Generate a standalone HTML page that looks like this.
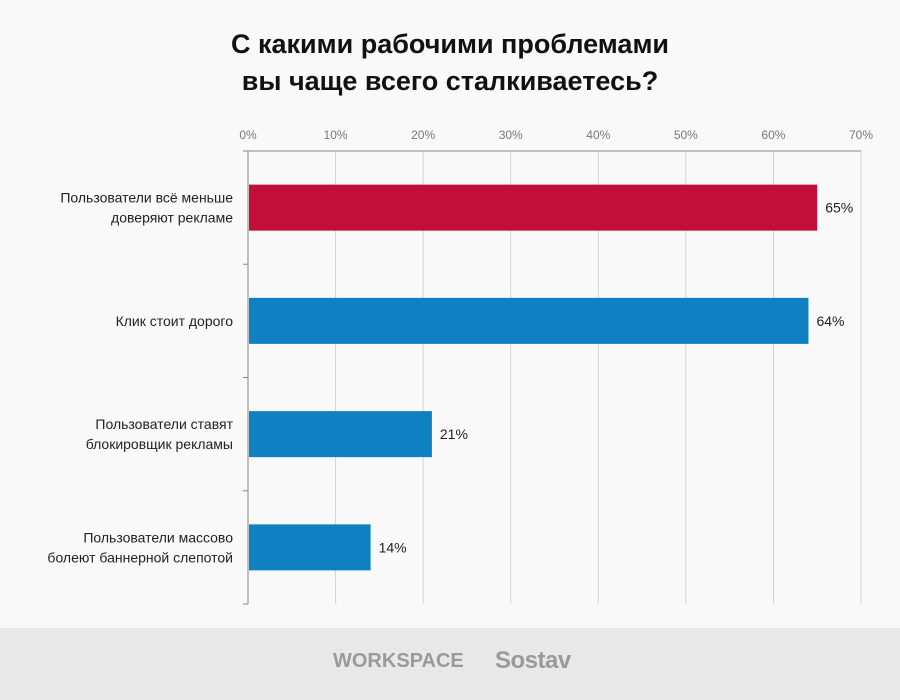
<!DOCTYPE html>
<html><head><meta charset="utf-8"><style>
body{margin:0;width:900px;height:700px;background:#f9f9f9;font-family:"Liberation Sans",sans-serif;overflow:hidden}
#title{position:absolute;top:26px;left:0;width:900px;text-align:center;font-weight:bold;font-size:27px;line-height:37px;color:#111}
#footer{position:absolute;left:0;top:628px;width:900px;height:72px;background:#e8e8e8}
</style></head><body>
<div id="title">С какими рабочими проблемами<br>вы чаще всего сталкиваетесь?</div>
<svg id="chart" width="900" height="628" style="position:absolute;top:0;left:0"></svg>
<div id="footer">
<span style="position:absolute;left:333px;top:22px;font-size:20px;font-weight:bold;color:#9a9a9a;letter-spacing:0px">WORKSPACE</span>
<span style="position:absolute;left:495px;top:19px;font-size:24px;font-weight:bold;color:#9a9a9a;letter-spacing:-0.5px">Sostav</span>
</div>
<script>
const categories=[["Пользователи всё меньше","доверяют рекламе"],["Клик стоит дорого"],["Пользователи ставят","блокировщик рекламы"],["Пользователи массово","болеют баннерной слепотой"]];
const values=[65,64,21,14];
const colors=["#c20e38","#0f80c1","#0f80c1","#0f80c1"];
const ticks=[0,10,20,30,40,50,60,70];
const svg=document.getElementById('chart');
const NS="http://www.w3.org/2000/svg";
const x0=248,x1=861,y0=151,y1=604;
const xs=v=>x0+(x1-x0)*v/70;
const band=(y1-y0)/categories.length;
function mk(t,a,p){const e=document.createElementNS(NS,t);for(const k in a)e.setAttribute(k,a[k]);(p||svg).appendChild(e);return e;}
ticks.forEach(t=>{
 const g=mk('line',{x1:xs(t),x2:xs(t),y1:y0,y2:y1,stroke:t===0?'#888':'#d4d4d4','stroke-width':1});
 
 
 const l=mk('text',{x:xs(t),y:y0-12,'text-anchor':'middle','font-size':12,fill:'#777'});
 l.textContent=t+'%';
 
 
});
const ax=mk('line',{x1:243,x2:x1,y1:y0,y2:y0,stroke:'#888'});


for(let i=0;i<=categories.length;i++){
 const tk=mk('line',{x1:243,x2:x0,y1:y0+band*i,y2:y0+band*i,stroke:'#888'});
 
 
}
categories.forEach((c,i)=>{
 const cy=y0+band*(i+0.5);
 const r=mk('rect',{x:x0+1,y:cy-23,width:xs(values[i])-x0-1,height:46,fill:colors[i]});
 
 
 const v=mk('text',{x:xs(values[i])+8,y:cy+5,'font-size':14,fill:'#222'});
 v.textContent=values[i]+'%';
 
 
 const t=mk('text',{x:233,y:cy+5-(c.length-1)*10,'text-anchor':'end','font-size':14,fill:'#222'});
 
 
 c.forEach((s,j)=>{const ts=mk('tspan',{x:233,dy:j?20:0},t);ts.textContent=s;});
});
</script>
</body></html>
